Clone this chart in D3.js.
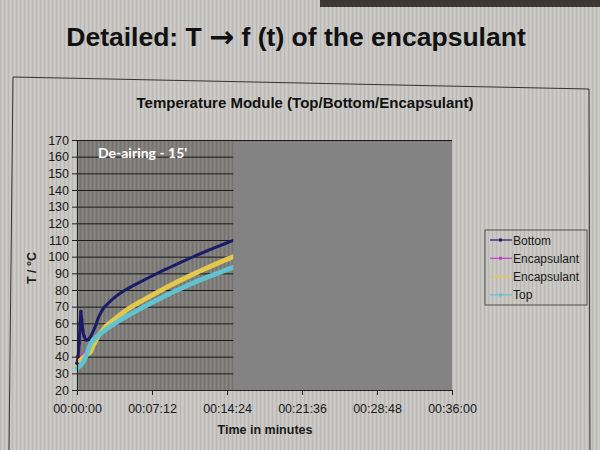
<!DOCTYPE html>
<html lang="en">
<head>
<meta charset="utf-8">
<title>Temperature Module (Top/Bottom/Encapsulant)</title>
<script src="https://cdn.jsdelivr.net/npm/d3@7"></script>
<style>
  body { margin: 0; background: #c5c4c0; }
  svg { display: block; }
</style>
</head>
<body>
<script>

// time in minutes, temperatures in deg C
var minutes   = [0, 0.1, 0.2, 0.3, 0.38, 0.45, 0.55, 0.7, 0.9, 1.1, 1.3, 1.5, 1.75, 2, 2.3, 2.6, 3, 3.5, 4, 4.5, 5, 6, 7, 8, 9, 10, 11, 12, 13, 14, 15];
var bottomT   = [36, 40, 48, 60, 67, 62, 56, 52, 50, 50.5, 52, 54.5, 58, 62.5, 66.5, 69.5, 72, 75, 77.5, 79.5, 81.3, 84.6, 87.8, 90.9, 93.8, 96.7, 99.5, 102.2, 104.8, 107.3, 109.8];
var encapMag  = [35, 37.5, 39, 40, 40.5, 41, 41.5, 42.5, 43.5, 44.5, 45.5, 47, 50, 52.8, 55.3, 57.8, 60.3, 62.8, 65.3, 67.6, 69.8, 73.5, 77, 80.4, 83.7, 86.8, 89.8, 92.7, 95.5, 98.2, 100.8];
var encapYel  = [34, 35.5, 36.5, 37.5, 38, 38.5, 39, 40, 41, 42, 43, 46, 49, 52, 54.5, 57, 59.5, 62, 64.5, 66.8, 69, 72.7, 76.2, 79.6, 82.9, 86, 89, 91.9, 94.7, 97.4, 100];
var topT      = [33, 33.5, 34, 34.5, 35, 35.5, 36.5, 38, 41, 44.5, 47.5, 49.5, 51, 52.5, 54, 55.5, 57.3, 59.4, 61.4, 63.3, 65, 68.5, 71.8, 75, 78.1, 81, 83.8, 86.4, 88.9, 91.3, 93.6];

var seriesNames  = ["Bottom", "Encapsulant", "Encapsulant", "Top"];
var seriesColors = ["#1c1b6a", "#c23fc0", "#e2c94c", "#62c3cf"];
var seriesWidths = [3, 2, 4.8, 4.8];
var seriesData   = [bottomT, encapMag, encapYel, topT];

var xTicks = [0, 7.2, 14.4, 21.6, 28.8, 36];
var yTicks = d3.range(20, 171, 10);
var deairEnd = 15;   // minutes

var w = 600, h = 450;
var plot = { l: 77, r: 452, t: 140, b: 390 };

var svg = d3.select("body").append("svg")
    .attr("width", w)
    .attr("height", h);

// photo stripes
var defs = svg.append("defs");
var pat = defs.append("pattern")
    .attr("id", "stripes")
    .attr("width", 4).attr("height", 8)
    .attr("patternUnits", "userSpaceOnUse");
pat.append("rect").attr("width", 1).attr("height", 8).attr("fill", "#000").attr("opacity", 0.07);
pat.append("rect").attr("x", 2).attr("width", 1).attr("height", 8).attr("fill", "#fff").attr("opacity", 0.1);

svg.append("rect").attr("width", w).attr("height", h).attr("fill", "#c7c6c2");
svg.append("rect").attr("width", w).attr("height", h).attr("fill", "url(#stripes)");

// dark strip of the screen bezel top right
svg.append("rect").attr("x", 320).attr("y", 0).attr("width", 280).attr("height", 7).attr("fill", "#3d3833");

// slide title
var title = svg.append("text")
    .attr("x", 296).attr("y", 46)
    .attr("text-anchor", "middle")
    .attr("font-family", "Liberation Sans, Arial, sans-serif")
    .attr("font-weight", "bold")
    .attr("font-size", "26.5px")
    .attr("fill", "#111");
title.append("tspan").text("Detailed: T ");
title.append("tspan").attr("font-family", "DejaVu Sans, sans-serif").attr("font-size", "30px").attr("dy", 1).text("\u2192");
title.append("tspan").attr("dy", -1).text(" f (t) of the encapsulant");

// chart frame (slightly skewed in the photo)
svg.append("path")
    .attr("d", "M13,77 L589,89 L590,452 L9,452 Z")
    .attr("fill", "none")
    .attr("stroke", "#333")
    .attr("stroke-width", 1);

svg.append("text")
    .attr("x", 305).attr("y", 108)
    .attr("text-anchor", "middle")
    .attr("font-family", "Liberation Sans, Arial, sans-serif")
    .attr("font-weight", "bold")
    .attr("font-size", "15px")
    .attr("fill", "#111")
    .text("Temperature Module (Top/Bottom/Encapsulant)");

var x = d3.scaleLinear().domain([0, 36]).range([plot.l, plot.r]);
var y = d3.scaleLinear().domain([20, 170]).range([plot.b, plot.t]);

function fmtTime(m) {
  var s = Math.round(m * 60);
  var hh = Math.floor(s / 3600), mm = Math.floor((s % 3600) / 60), ss = s % 60;
  return [hh, mm, ss].map(function(v) { return (v < 10 ? "0" : "") + v; }).join(":");
}

// plot area
svg.append("rect")
    .attr("x", plot.l).attr("y", plot.t)
    .attr("width", plot.r - plot.l).attr("height", plot.b - plot.t)
    .attr("fill", "#7d7c78");
svg.append("rect")
    .attr("x", plot.l).attr("y", plot.t)
    .attr("width", plot.r - plot.l).attr("height", plot.b - plot.t)
    .attr("fill", "url(#stripes)");

// gridlines
svg.append("g")
    .attr("transform", "translate(" + plot.l + ",0)")
    .call(d3.axisLeft(y).tickValues(yTicks.slice(1)).tickSize(-(plot.r - plot.l)).tickFormat(""))
    .call(function(g) { g.select(".domain").remove(); })
    .selectAll("line")
    .attr("stroke", "#1a1a1a")
    .attr("stroke-width", 1);

// series
var line = d3.line()
    .x(function(d, i) { return x(minutes[i]); })
    .y(function(d) { return y(d); })
    .curve(d3.curveMonotoneX);

seriesData.forEach(function(vals, k) {
  svg.append("path")
      .datum(vals)
      .attr("fill", "none")
      .attr("stroke", seriesColors[k])
      .attr("stroke-width", seriesWidths[k])
      .attr("stroke-linejoin", "round")
      .attr("stroke-linecap", "round")
      .attr("d", line);
});

// markers on the sparse start of Bottom
svg.selectAll("circle.mk")
    .data(bottomT.slice(0, 9))
    .enter()
    .append("circle")
    .attr("class", "mk")
    .attr("cx", function(d, i) { return x(minutes[i]); })
    .attr("cy", function(d) { return y(d); })
    .attr("r", 1.8)
    .attr("fill", seriesColors[0]);

// grey box hiding the rest of the run
svg.append("rect")
    .attr("x", x(deairEnd)).attr("y", plot.t + 2)
    .attr("width", x(36) - x(deairEnd)).attr("height", plot.b - plot.t - 2)
    .attr("fill", "#838383");

svg.append("text")
    .attr("x", 98).attr("y", 158)
    .attr("font-family", "Lato, 'Open Sans', sans-serif")
    .attr("font-weight", "bold")
    .attr("font-size", "14px")
    .attr("fill", "#fff")
    .text("De-airing - 15'");

// axes
var xAxis = svg.append("g")
    .attr("transform", "translate(0," + plot.b + ")")
    .call(d3.axisBottom(x).tickValues(xTicks).tickSize(5).tickSizeOuter(0).tickFormat(fmtTime));
var yAxis = svg.append("g")
    .attr("transform", "translate(" + plot.l + ",0)")
    .call(d3.axisLeft(y).tickValues(yTicks).tickSize(5).tickSizeOuter(0));

[xAxis, yAxis].forEach(function(g) {
  g.selectAll("path, line").attr("stroke", "#222");
  g.selectAll("text")
      .attr("font-family", "Liberation Sans, Arial, sans-serif")
      .attr("font-size", "12.5px")
      .attr("fill", "#1a1a1a");
});
xAxis.selectAll("text").attr("dy", "1.2em");

svg.append("text")
    .attr("x", 265).attr("y", 434)
    .attr("text-anchor", "middle")
    .attr("font-family", "Liberation Sans, Arial, sans-serif")
    .attr("font-weight", "bold")
    .attr("font-size", "12.5px")
    .attr("fill", "#1a1a1a")
    .text("Time in minutes");

svg.append("text")
    .attr("transform", "translate(36,268) rotate(-90)")
    .attr("text-anchor", "middle")
    .attr("font-family", "Liberation Sans, Arial, sans-serif")
    .attr("font-weight", "bold")
    .attr("font-size", "12.5px")
    .attr("fill", "#1a1a1a")
    .text("T / \u00B0C");

// legend
var leg = svg.append("g").attr("transform", "translate(485,230)");
leg.append("rect")
    .attr("width", 102).attr("height", 75)
    .attr("fill", "none")
    .attr("stroke", "#333")
    .attr("stroke-width", 0.8);
var item = leg.selectAll("g.item")
    .data(seriesNames)
    .enter()
    .append("g")
    .attr("class", "item")
    .attr("transform", function(d, i) { return "translate(0," + (10 + i * 18.3) + ")"; });
item.append("line")
    .attr("x1", 5).attr("x2", 27)
    .attr("stroke", function(d, i) { return seriesColors[i]; })
    .attr("stroke-width", 1.2);
item.append("rect")
    .attr("x", 14).attr("y", -1.5).attr("width", 3).attr("height", 3)
    .attr("fill", function(d, i) { return seriesColors[i]; });
item.append("text")
    .attr("x", 28).attr("y", 4.5)
    .attr("font-family", "Liberation Sans, Arial, sans-serif")
    .attr("font-size", "12px")
    .attr("fill", "#1a1a1a")
    .text(function(d) { return d; });

</script>
</body>
</html>
